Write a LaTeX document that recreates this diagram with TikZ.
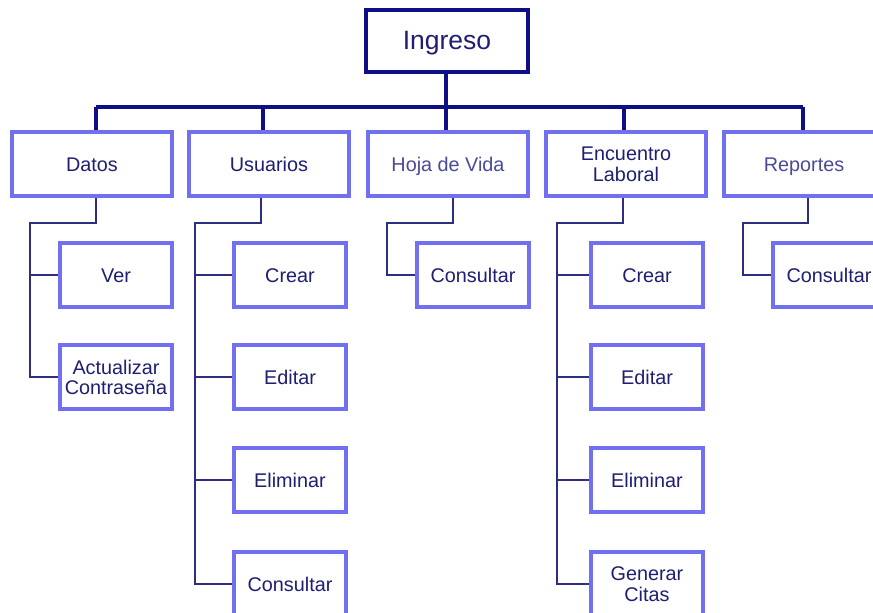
\documentclass[tikz,border=0pt]{standalone}
\usepackage{fontspec}
\setmainfont{Liberation Sans}
\definecolor{boxblue}{HTML}{7070F0}
\definecolor{navy}{HTML}{0E0E86}
\definecolor{linkc}{HTML}{2E2E80}
\definecolor{txt}{HTML}{1E1E72}
\definecolor{txtl}{HTML}{4A4A98}
\newcommand{\lbl}[2][-3pt]{\raisebox{#1}[\height][\depth]{\begin{tabular}{@{}c@{}}#2\end{tabular}}}
\begin{document}
\begin{tikzpicture}[x=1pt,y=-1pt,
  box/.style={draw=boxblue,line width=3.4pt,fill=white,minimum height=64pt,inner sep=0pt,
    align=center,text=txt,font=\fontsize{19.8}{20}\selectfont},
  topbox/.style={box,minimum width=160pt},
  subbox/.style={box,minimum width=112pt},
  rootbox/.style={draw=navy,line width=4pt,fill=white,minimum width=162pt,minimum height=62pt,
    text=txt,font=\fontsize{26.5}{28}\selectfont},
  bus/.style={draw=navy,line width=3.2pt},
  link/.style={draw=linkc,line width=1.8pt}]
\useasboundingbox (0,0) rectangle (873,613);
\clip (0,0) rectangle (873,613);
\fill[white] (0,0) rectangle (873,613);

% coordinates of the bus
\coordinate (b0) at (446,107);
\coordinate (b1) at (96,107);
\coordinate (b2) at (263,107);
\coordinate (b3) at (446,107);
\coordinate (b4) at (624,107);
\coordinate (b5) at (803,107);
% elbows
\coordinate (d1) at (96,223);  \coordinate (l1) at (30,223);
\coordinate (d2) at (261,223); \coordinate (l2) at (195,223);
\coordinate (d3) at (453,223); \coordinate (l3) at (387,223);
\coordinate (d4) at (623,223); \coordinate (l4) at (557,223);
\coordinate (d5) at (808,223); \coordinate (l5) at (743,223);

% connectors (drawn first, boxes on top)
\draw[bus] (b1) -- (b5);
\draw[bus] (b1) -- (b1 |- 0,132);
\draw[bus] (b2) -- (b2 |- 0,132);
\draw[bus] (b4) -- (b4 |- 0,132);
\draw[bus] (b5) -- (b5 |- 0,132);
\draw[bus] (b3) -- (b3 |- 0,132);

\node[rootbox] (ingreso) at (447,41) {\lbl{Ingreso}};
\draw[bus] (ingreso.south -| b0) -- (b0);

\node[topbox] (datos) at (92,164) {\lbl{Datos}};
\node[topbox] (usuarios) at (269,164) {\lbl{Usuarios}};
\node[topbox,text=txtl] (hoja) at (448,164) {\lbl{Hoja de Vida}};
\node[topbox] (encuentro) at (626,164) {\lbl{Encuentro\\Laboral}};
\node[topbox,text=txtl] (reportes) at (804,164) {\lbl{Reportes}};

\node[subbox] (ver) at (116,275) {\lbl{Ver}};
\node[subbox] (act) at (116,377) {\lbl{Actualizar\\Contraseña}};

\node[subbox] (ucrear) at (290,275) {\lbl{Crear}};
\node[subbox] (ueditar) at (290,377) {\lbl{Editar}};
\node[subbox] (uelim) at (290,480) {\lbl{Eliminar}};
\node[subbox] (ucons) at (290,584) {\lbl{Consultar}};

\node[subbox] (hcons) at (473,275) {\lbl{Consultar}};

\node[subbox] (ecrear) at (647,275) {\lbl{Crear}};
\node[subbox] (eeditar) at (647,377) {\lbl{Editar}};
\node[subbox] (eelim) at (647,480) {\lbl{Eliminar}};
\node[subbox] (egen) at (647,584) {\lbl{Generar\\Citas}};

\node[subbox] (rcons) at (829,275) {\lbl{Consultar}};

% second level links
\draw[link] (d1 |- datos.south) -- (d1) -- (l1) |- (act.west);
\draw[link] (l1 |- ver.west) -- (ver.west);

\draw[link] (d2 |- usuarios.south) -- (d2) -- (l2) |- (ucons.west);
\draw[link] (l2 |- ucrear.west) -- (ucrear.west);
\draw[link] (l2 |- ueditar.west) -- (ueditar.west);
\draw[link] (l2 |- uelim.west) -- (uelim.west);

\draw[link] (d3 |- hoja.south) -- (d3) -- (l3) |- (hcons.west);

\draw[link] (d4 |- encuentro.south) -- (d4) -- (l4) |- (egen.west);
\draw[link] (l4 |- ecrear.west) -- (ecrear.west);
\draw[link] (l4 |- eeditar.west) -- (eeditar.west);
\draw[link] (l4 |- eelim.west) -- (eelim.west);

\draw[link] (d5 |- reportes.south) -- (d5) -- (l5) |- (rcons.west);
\end{tikzpicture}
\end{document}
